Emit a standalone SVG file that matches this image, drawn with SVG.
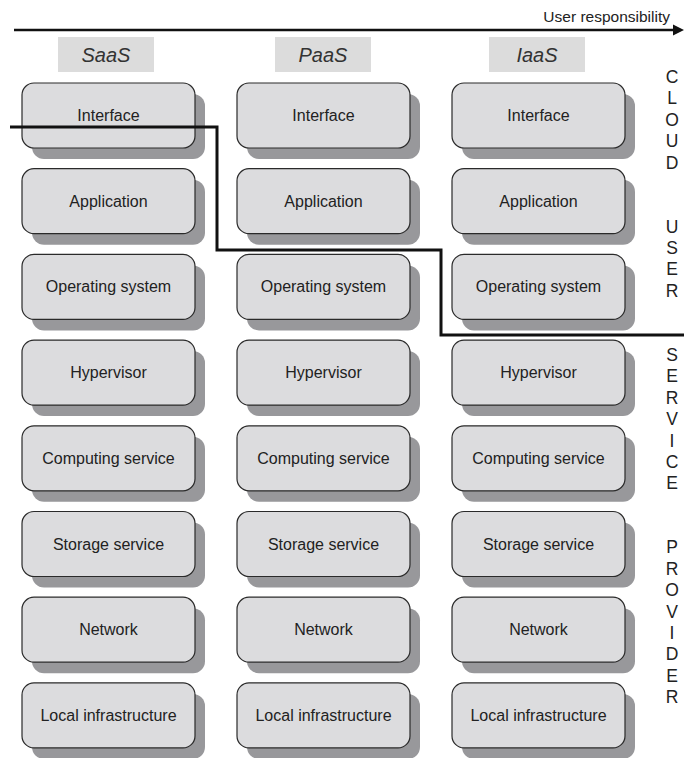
<svg xmlns="http://www.w3.org/2000/svg" width="684" height="758" viewBox="0 0 684 758">
<defs>
<style>
.sh{fill:#98989b;}
.bx{fill:#dcdcde;stroke:#2a2a2a;stroke-width:1.2;}
.lb{font-family:"Liberation Sans",Arial,sans-serif;font-size:16px;fill:#222;text-anchor:middle;}
.hd{fill:#dcdcdc;}
.ht{font-family:"Liberation Sans",Arial,sans-serif;font-size:20px;font-style:italic;fill:#333;text-anchor:middle;}
.side{font-family:"Liberation Sans",Arial,sans-serif;font-size:17.5px;fill:#222;text-anchor:middle;}
.ax{font-family:"Liberation Sans",Arial,sans-serif;font-size:15.5px;fill:#222;text-anchor:end;}
</style>
<g id="nodeshape">
<rect class="sh" x="10" y="11" width="173" height="65" rx="12"/>
<rect class="bx" x="0" y="0" width="173" height="65" rx="12"/>
</g>
</defs>
<rect width="684" height="758" fill="#fff"/>

<g id="axis">
<line x1="14" y1="30" x2="676" y2="30" stroke="#111" stroke-width="2.5"/>
<polygon points="673,24.5 684,30 673,35.5" fill="#111"/>
<text class="ax" x="670" y="22">User responsibility</text>
</g>

<g id="header-saas"><rect class="hd" x="58" y="37" width="96" height="35"/><text class="ht" x="106" y="62">SaaS</text></g>
<g id="header-paas"><rect class="hd" x="275" y="37" width="96" height="35"/><text class="ht" x="323" y="62">PaaS</text></g>
<g id="header-iaas"><rect class="hd" x="489" y="37" width="96" height="35"/><text class="ht" x="537" y="62">IaaS</text></g>

<!-- column SaaS -->
<g id="saas-interface"><use href="#nodeshape" x="22" y="83"/><text class="lb" x="108.5" y="121">Interface</text></g>
<g id="saas-application"><use href="#nodeshape" x="22" y="168.7"/><text class="lb" x="108.5" y="206.7">Application</text></g>
<g id="saas-os"><use href="#nodeshape" x="22" y="254.4"/><text class="lb" x="108.5" y="292.4">Operating system</text></g>
<g id="saas-hypervisor"><use href="#nodeshape" x="22" y="340.1"/><text class="lb" x="108.5" y="378.1">Hypervisor</text></g>
<g id="saas-computing"><use href="#nodeshape" x="22" y="425.8"/><text class="lb" x="108.5" y="463.8">Computing service</text></g>
<g id="saas-storage"><use href="#nodeshape" x="22" y="511.5"/><text class="lb" x="108.5" y="549.5">Storage service</text></g>
<g id="saas-network"><use href="#nodeshape" x="22" y="597.2"/><text class="lb" x="108.5" y="635.2">Network</text></g>
<g id="saas-local"><use href="#nodeshape" x="22" y="682.9"/><text class="lb" x="108.5" y="720.9">Local infrastructure</text></g>

<!-- column PaaS -->
<g id="paas-interface"><use href="#nodeshape" x="237" y="83"/><text class="lb" x="323.5" y="121">Interface</text></g>
<g id="paas-application"><use href="#nodeshape" x="237" y="168.7"/><text class="lb" x="323.5" y="206.7">Application</text></g>
<g id="paas-os"><use href="#nodeshape" x="237" y="254.4"/><text class="lb" x="323.5" y="292.4">Operating system</text></g>
<g id="paas-hypervisor"><use href="#nodeshape" x="237" y="340.1"/><text class="lb" x="323.5" y="378.1">Hypervisor</text></g>
<g id="paas-computing"><use href="#nodeshape" x="237" y="425.8"/><text class="lb" x="323.5" y="463.8">Computing service</text></g>
<g id="paas-storage"><use href="#nodeshape" x="237" y="511.5"/><text class="lb" x="323.5" y="549.5">Storage service</text></g>
<g id="paas-network"><use href="#nodeshape" x="237" y="597.2"/><text class="lb" x="323.5" y="635.2">Network</text></g>
<g id="paas-local"><use href="#nodeshape" x="237" y="682.9"/><text class="lb" x="323.5" y="720.9">Local infrastructure</text></g>

<!-- column IaaS -->
<g id="iaas-interface"><use href="#nodeshape" x="452" y="83"/><text class="lb" x="538.5" y="121">Interface</text></g>
<g id="iaas-application"><use href="#nodeshape" x="452" y="168.7"/><text class="lb" x="538.5" y="206.7">Application</text></g>
<g id="iaas-os"><use href="#nodeshape" x="452" y="254.4"/><text class="lb" x="538.5" y="292.4">Operating system</text></g>
<g id="iaas-hypervisor"><use href="#nodeshape" x="452" y="340.1"/><text class="lb" x="538.5" y="378.1">Hypervisor</text></g>
<g id="iaas-computing"><use href="#nodeshape" x="452" y="425.8"/><text class="lb" x="538.5" y="463.8">Computing service</text></g>
<g id="iaas-storage"><use href="#nodeshape" x="452" y="511.5"/><text class="lb" x="538.5" y="549.5">Storage service</text></g>
<g id="iaas-network"><use href="#nodeshape" x="452" y="597.2"/><text class="lb" x="538.5" y="635.2">Network</text></g>
<g id="iaas-local"><use href="#nodeshape" x="452" y="682.9"/><text class="lb" x="538.5" y="720.9">Local infrastructure</text></g>

<g id="connectors">
<path d="M10,127 H217 V250 H441 V335 H684" fill="none" stroke="#111" stroke-width="3"/>
</g>

<g id="side-label" class="side">
<text x="672" y="83">C</text>
<text x="672" y="104.4">L</text>
<text x="672" y="125.8">O</text>
<text x="672" y="147.1">U</text>
<text x="672" y="168.5">D</text>
<text x="672" y="232.7">U</text>
<text x="672" y="254">S</text>
<text x="672" y="275.4">E</text>
<text x="672" y="296.8">R</text>
<text x="672" y="361">S</text>
<text x="672" y="382.3">E</text>
<text x="672" y="403.7">R</text>
<text x="672" y="425.1">V</text>
<text x="672" y="446.5">I</text>
<text x="672" y="467.8">C</text>
<text x="672" y="489.2">E</text>
<text x="672" y="553.4">P</text>
<text x="672" y="574.7">R</text>
<text x="672" y="596.1">O</text>
<text x="672" y="617.5">V</text>
<text x="672" y="638.9">I</text>
<text x="672" y="660.2">D</text>
<text x="672" y="681.6">E</text>
<text x="672" y="703">R</text>
</g>
</svg>
